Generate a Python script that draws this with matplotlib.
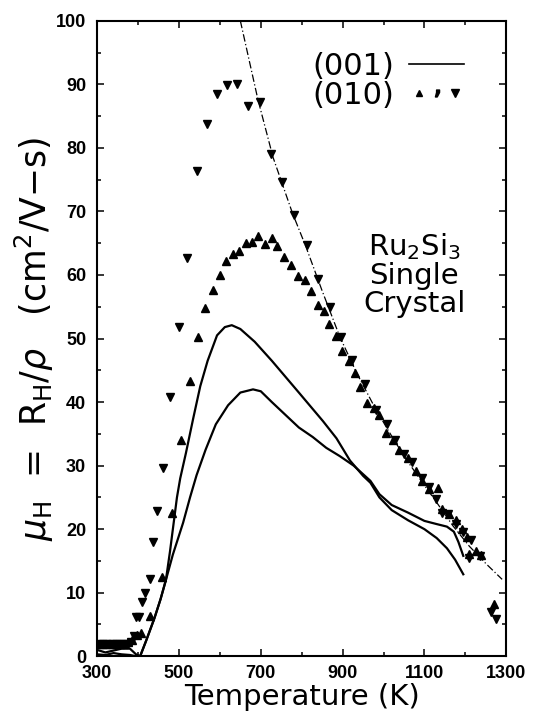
import matplotlib
matplotlib.use("Agg")
import matplotlib.pyplot as plt
from matplotlib.lines import Line2D
from matplotlib.legend_handler import HandlerTuple
from matplotlib.ticker import MultipleLocator

plt.rcParams['font.family'] = ['DejaVu Sans']
plt.rcParams['mathtext.fontset'] = 'dejavusans'
plt.rcParams['mathtext.default'] = 'regular'

# (010) sample, down triangles
t_down = [305, 315, 325, 335, 345, 355, 365, 375, 383, 390, 396, 403, 410, 416,
          428, 437, 446, 461, 478, 499, 520, 544, 568, 592, 617, 643, 668, 697,
          725, 752, 782, 812, 841, 869, 895, 924, 954, 981, 1009, 1029, 1049,
          1069, 1094, 1112, 1128, 1142, 1157, 1178, 1194, 1213, 1210, 1237,
          1262, 1274]
mu_down = [1.9, 1.9, 1.9, 1.9, 1.9, 1.9, 1.9, 2.0, 2.3, 3.2, 6.2, 6.2, 8.5, 10.0,
           12.2, 18.0, 22.9, 29.6, 40.8, 51.8, 62.7, 76.4, 83.7, 88.5, 89.9, 90.0,
           86.6, 87.3, 79.1, 74.6, 69.5, 64.7, 59.4, 55.0, 50.3, 46.6, 42.8, 38.8,
           36.5, 34.1, 31.9, 30.5, 28.1, 26.6, 24.8, 22.6, 22.4, 20.8, 19.6, 18.3,
           15.5, 15.7, 7.0, 5.9]

# (010) sample, up triangles
t_up = [305, 315, 325, 335, 345, 355, 365, 375, 385, 397, 408, 430, 459, 484,
        505, 527, 546, 564, 582, 600, 616, 631, 647, 663, 678, 694, 710, 727,
        740, 757, 775, 792, 807, 823, 840, 855, 867, 884, 899, 915, 930, 942,
        959, 976, 988, 1005, 1022, 1039, 1059, 1079, 1095, 1112, 1132, 1144,
        1159, 1177, 1191, 1205, 1209, 1225, 1238, 1271]
mu_up = [1.9, 1.9, 1.9, 2.0, 1.9, 2.0, 2.0, 2.2, 2.6, 3.4, 3.7, 6.3, 12.5, 22.5,
         34.0, 43.3, 50.2, 54.8, 57.6, 60.0, 62.2, 63.3, 63.7, 65.0, 65.2, 66.1,
         64.9, 65.8, 64.5, 62.8, 61.5, 59.8, 59.2, 57.5, 55.3, 54.4, 52.3, 50.4,
         48.1, 46.5, 44.6, 42.4, 39.9, 39.0, 38.0, 35.2, 34.0, 32.4, 31.2, 29.2,
         27.6, 26.3, 26.4, 23.2, 22.4, 21.5, 20.0, 18.8, 16.1, 16.5, 16.0, 8.3]

# (001) sample, two solid curves
t_001a = [300, 320, 340, 360, 380, 395, 405, 420, 440, 455, 468, 478, 487, 495,
          503, 517, 535, 552, 570, 593, 612, 629, 650, 685, 727, 793, 852, 885,
          918, 950, 968, 990, 1020, 1060, 1100, 1130, 1155, 1175, 1195]
mu_001a = [1.0, 0.6, 0.9, 1.2, 1.2, 0.3, 0.0, 2.5, 6.0, 9.0, 12.0, 16.5, 21.0,
           25.0, 28.0, 32.0, 37.5, 42.5, 46.5, 50.5, 51.8, 52.1, 51.5, 49.5, 46.5,
           41.5, 37.0, 34.3, 30.8, 28.4, 27.3, 25.0, 23.0, 21.4, 20.0, 18.6, 17.0,
           15.2, 12.9]

t_001b = [300, 320, 340, 360, 380, 395, 405, 420, 440, 455, 468, 485, 500, 510,
          527, 543, 565, 590, 620, 650, 681, 700, 727, 760, 793, 827, 860, 893,
          927, 968, 990, 1020, 1060, 1100, 1130, 1155, 1172, 1183, 1195]
mu_001b = [0.3, 0.2, 0.5, 0.3, 0.2, 0.0, 0.0, 2.5, 6.0, 9.0, 12.0, 16.0, 19.0,
           21.0, 25.0, 28.5, 32.5, 36.5, 39.5, 41.5, 42.0, 41.7, 40.0, 38.0, 36.0,
           34.5, 32.8, 31.5, 30.0, 27.6, 25.5, 23.8, 22.6, 21.3, 20.8, 20.4, 19.6,
           18.0, 15.8]

# dash-dot guide through the high-temperature data
t_fit = [650, 693, 730, 777, 810, 850, 893, 935, 975, 1010, 1050, 1090, 1130,
         1170, 1210, 1250, 1290]
mu_fit = [100.0, 87.6, 78.5, 69.8, 64.5, 57.5, 50.3, 44.5, 39.6, 35.7, 31.5,
          27.8, 24.2, 20.5, 17.3, 14.6, 12.1]

x_ticks = [300, 500, 700, 900, 1100, 1300]

fig = plt.figure(figsize=(5.34, 7.18), dpi=100)
ax = fig.add_axes([0.182, 0.086, 0.766, 0.885])

ax.plot(t_001a, mu_001a, color='black', lw=1.6)
ax.plot(t_001b, mu_001b, color='black', lw=1.6)
ax.plot(t_fit, mu_fit, color='black', lw=0.9, ls=(0, (6, 2, 1, 2)))
ax.plot(t_up, mu_up, ls='none', marker='^', ms=6, color='black')
ax.plot(t_down, mu_down, ls='none', marker='v', ms=6, color='black')

ax.set_xlim(300, 1300)
ax.set_ylim(0, 100)
ax.set_xticks(x_ticks)
ax.xaxis.set_minor_locator(MultipleLocator(100))
ax.yaxis.set_major_locator(MultipleLocator(10))
ax.yaxis.set_minor_locator(MultipleLocator(5))
ax.tick_params(which='both', direction='in', top=True, right=True, width=1.1)
ax.tick_params(which='major', length=5, labelsize=13)
ax.tick_params(axis='x', which='major', pad=6)
ax.tick_params(axis='y', which='major', pad=8)
ax.tick_params(which='minor', length=3)
for lab in ax.get_xticklabels() + ax.get_yticklabels():
    lab.set_family('Liberation Sans')
    lab.set_fontweight('bold')
for s in ax.spines.values():
    s.set_linewidth(1.5)

ax.set_xlabel('Temperature (K)', fontsize=21, labelpad=1)
ax.set_ylabel(r'$\mathit{\mu}_H$  =  R$_H$/$\mathit{\rho}$   (cm$^2$/V$-$s)',
              fontsize=25, labelpad=0)

ax.text(0.775, 0.6, 'Ru$_2$Si$_3$\nSingle\nCrystal', transform=ax.transAxes,
        ha='center', va='center', fontsize=21, linespacing=1.0)

h1 = Line2D([], [], color='black', lw=1.2)
h_up = Line2D([], [], ls='none', marker='^', ms=5, color='black')
h_comma = Line2D([], [], ls='none', marker='$,$', ms=5, color='black')
h_dn = Line2D([], [], ls='none', marker='v', ms=6, color='black')
ax.legend([h1, (h_up, h_comma, h_dn)], ['(001)', '(010)'], loc='upper right',
          bbox_to_anchor=(0.935, 0.975), frameon=False, markerfirst=False,
          fontsize=22, handlelength=1.8, handletextpad=0.5, labelspacing=0.0,
          borderpad=0.0,
          handler_map={tuple: HandlerTuple(ndivide=None, pad=0.0)})

fig.savefig('out.png', dpi=100)
